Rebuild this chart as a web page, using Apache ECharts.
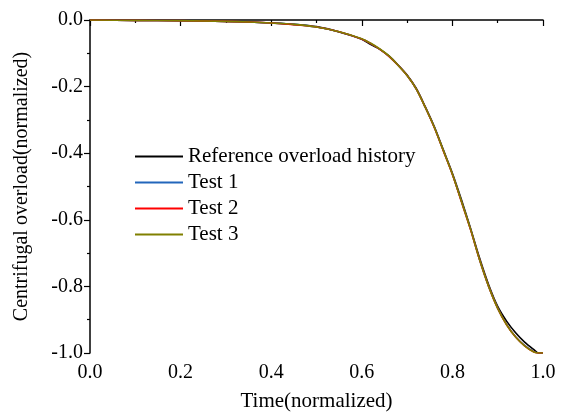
<!DOCTYPE html>
<html>
<head>
<meta charset="utf-8">
<script src="https://cdn.jsdelivr.net/npm/echarts@6/dist/echarts.min.js"></script>
<style>html,body{margin:0;padding:0;background:#fff}#c{width:563px;height:412px}</style>
</head>
<body>
<div id="c"></div>
<script>
const time = [0, 0.1, 0.2, 0.3, 0.35, 0.4, 0.45, 0.5, 0.55, 0.6, 0.62, 0.64, 0.66, 0.68, 0.70, 0.72, 0.74, 0.76, 0.78, 0.80, 0.82, 0.84, 0.86, 0.88, 0.90, 0.92, 0.94, 0.96, 0.98, 0.99, 1.0];
const refHistory = [0, -0.001, -0.002, -0.004, -0.006, -0.009, -0.013, -0.020, -0.036, -0.058, -0.074, -0.088, -0.108, -0.135, -0.165, -0.205, -0.26, -0.32, -0.39, -0.46, -0.54, -0.625, -0.715, -0.795, -0.86, -0.905, -0.94, -0.968, -0.99, -1.0, -1.0];
const test1 = [0, -0.001, -0.002, -0.004, -0.006, -0.009, -0.013, -0.021, -0.035, -0.057, -0.071, -0.088, -0.109, -0.136, -0.167, -0.207, -0.262, -0.322, -0.392, -0.463, -0.545, -0.628, -0.72, -0.80, -0.865, -0.915, -0.952, -0.978, -0.996, -1.0, -1.0];
const test2 = [0, -0.001, -0.002, -0.004, -0.006, -0.009, -0.014, -0.021, -0.035, -0.057, -0.071, -0.088, -0.109, -0.136, -0.167, -0.207, -0.262, -0.323, -0.393, -0.464, -0.546, -0.629, -0.72, -0.80, -0.866, -0.916, -0.953, -0.979, -0.997, -1.0, -1.0];
const test3 = [0, -0.001, -0.002, -0.004, -0.006, -0.009, -0.013, -0.021, -0.035, -0.056, -0.070, -0.087, -0.108, -0.136, -0.167, -0.207, -0.262, -0.322, -0.392, -0.463, -0.545, -0.628, -0.72, -0.80, -0.866, -0.916, -0.953, -0.979, -0.997, -1.0, -1.0];
const seriesNames = ['Reference overload history', 'Test 1', 'Test 2', 'Test 3'];
const seriesColors = ['#000000', '#2266bb', '#ff0000', '#808000'];
const xTicks = [0, 0.2, 0.4, 0.6, 0.8, 1.0];
const yTicks = [-1.0, -0.8, -0.6, -0.4, -0.2, 0.0];

const allValues = [refHistory, test1, test2, test3];
const font = 'Liberation Serif, Times New Roman, serif';
const chart = echarts.init(document.getElementById('c'), null, {renderer: 'canvas'});
chart.setOption({
  animation: false,
  backgroundColor: '#fff',
  grid: {left: 90, right: 20, top: 20, bottom: 59, containLabel: false, outerBoundsMode: 'none'},
  legend: {
    left: 135, top: 146, orient: 'vertical', padding: 0,
    icon: 'rect',
    itemWidth: 48, itemHeight: 2, itemGap: 5,
    data: seriesNames,
    textStyle: {fontFamily: font, fontSize: 21, lineHeight: 21, color: '#000', padding: [0,0,0,0]}
  },
  xAxis: {
    type: 'value', min: 0, max: 1, interval: 0.2,
    name: 'Time(normalized)', nameLocation: 'middle', nameGap: 38,
    nameTextStyle: {fontFamily: font, fontSize: 21, color: '#000'},
    axisLine: {show: true, lineStyle: {color: '#000', width: 1.5}},
    axisTick: {show: true, inside: false, length: 6, lineStyle: {color: '#000', width: 1.2}},
    minorTick: {show: true, splitNumber: 2, length: 3, lineStyle: {color: '#000', width: 1.2}},
    axisLabel: {fontFamily: font, fontSize: 20, color: '#000', margin: 10, formatter: v => v.toFixed(1)},
    splitLine: {show: false}
  },
  yAxis: {
    type: 'value', min: -1, max: 0, interval: 0.2,
    name: 'Centrifugal overload(normalized)', nameLocation: 'middle', nameGap: 58,
    nameTextStyle: {fontFamily: font, fontSize: 20, color: '#000'},
    axisLine: {show: true, lineStyle: {color: '#000', width: 1.5}},
    axisTick: {show: true, inside: false, length: 6, lineStyle: {color: '#000', width: 1.2}},
    minorTick: {show: true, splitNumber: 2, length: 3, lineStyle: {color: '#000', width: 1.2}},
    axisLabel: {fontFamily: font, fontSize: 20, color: '#000', margin: 7, formatter: v => v.toFixed(1)},
    splitLine: {show: false}
  },
  series: seriesNames.map((n, i) => ({
    name: n, type: 'line', symbol: 'none', smooth: 0.3,
    color: seriesColors[i],
    lineStyle: {color: seriesColors[i], width: 1.6},
    data: time.map((t, k) => [t, allValues[i][k]])
  }))
});
</script>
</body>
</html>
